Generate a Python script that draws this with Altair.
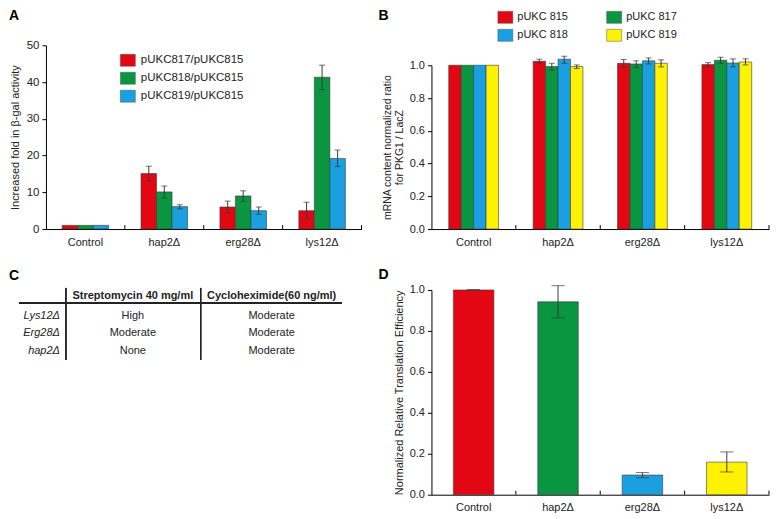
import altair as alt
import pandas as pd

# ---------------- data ----------------
groups = ["Control", "hap2Δ", "erg28Δ", "lys12Δ"]

# Panel A: increased fold in beta-gal activity
a_series = ["pUKC817/pUKC815", "pUKC818/pUKC815", "pUKC819/pUKC815"]
a_817 = [1.0, 15.1, 6.0, 5.0]
a_817_lo = [None, 13.1, 4.4, 2.8]
a_817_hi = [None, 17.1, 7.6, 7.3]
a_818 = [1.0, 10.1, 9.0, 41.3]
a_818_lo = [None, 8.4, 7.5, 37.9]
a_818_hi = [None, 11.7, 10.4, 44.6]
a_819 = [1.0, 6.1, 5.0, 19.2]
a_819_lo = [None, 5.5, 4.0, 17.0]
a_819_hi = [None, 6.6, 6.0, 21.5]

# Panel B: mRNA content ratio
b_series = ["pUKC 815", "pUKC 817", "pUKC 818", "pUKC 819"]
b_815 = [1.0, 1.024, 1.012, 1.004]
b_815_lo = [None, 1.012, 0.986, 0.990]
b_815_hi = [None, 1.037, 1.035, 1.016]
b_817 = [1.0, 0.992, 1.008, 1.031]
b_817_lo = [None, 0.971, 0.986, 1.012]
b_817_hi = [None, 1.012, 1.027, 1.049]
b_818 = [1.0, 1.037, 1.027, 1.014]
b_818_lo = [None, 1.012, 1.008, 0.990]
b_818_hi = [None, 1.055, 1.045, 1.039]
b_819 = [1.0, 0.992, 1.012, 1.020]
b_819_lo = [None, 0.980, 0.990, 1.002]
b_819_hi = [None, 1.002, 1.033, 1.039]

# Panel C: table
c_rows = ["Lys12Δ", "Erg28Δ", "hap2Δ"]
c_headers = ["Streptomycin 40 mg/ml", "Cycloheximide(60 ng/ml)"]
c_strep = ["High", "Moderate", "None"]
c_cyclo = ["Moderate", "Moderate", "Moderate"]

# Panel D: normalized relative translation efficiency
d_values = [1.0, 0.942, 0.096, 0.159]
d_lo = [0.998, 0.864, 0.083, 0.111]
d_hi = [1.002, 1.021, 0.108, 0.209]

# ---------------- style ----------------
RED, GREEN, BLUE, YELLOW = "#e30613", "#0a9540", "#1aa0e0", "#fff200"
INK = "#222222"
EDGE = "#3a3a3a"
RECT = "M-1,-0.8L1,-0.8L1,0.8L-1,0.8Z"
A_W, A_H = 316, 184
B_W = 338
D_H = 205
C_H = 70
GROUP_FRAC = 0.59


def long_table(gcol, scol, series, vals, los, his):
    rows = []
    for s, v, lo, hi in zip(series, vals, los, his):
        for g, vv, l, h in zip(groups, v, lo, hi):
            rows.append({gcol: g, scol: s, "value": vv, "lo": l, "hi": h})
    return pd.DataFrame(rows)


dfA = long_table("group", "series", a_series,
                 [a_817, a_818, a_819],
                 [a_817_lo, a_818_lo, a_819_lo],
                 [a_817_hi, a_818_hi, a_819_hi])
dfA_err = dfA.dropna(subset=["lo", "hi"])

dfB = long_table("group", "series", b_series,
                 [b_815, b_817, b_818, b_819],
                 [b_815_lo, b_817_lo, b_818_lo, b_819_lo],
                 [b_815_hi, b_817_hi, b_818_hi, b_819_hi])
dfB_err = dfB.dropna(subset=["lo", "hi"])

dfD = pd.DataFrame({"group": groups, "value": d_values, "lo": d_lo, "hi": d_hi})
df_groups = pd.DataFrame({"group": groups})


def xband():
    return alt.X("group:N", sort=groups,
                 scale=alt.Scale(domain=groups, paddingInner=0, paddingOuter=0),
                 axis=alt.Axis(title=None, labelAngle=0, ticks=False, labelPadding=7,
                               domainColor="black", domainWidth=1,
                               labelFontSize=11, labelColor=INK))


def xoffset(series, width):
    bw = width / len(groups)
    start = bw * (1 - GROUP_FRAC) / 2
    return alt.XOffset("series:N", sort=series,
                       scale=alt.Scale(domain=series, range=[start, bw - start]))


def band_ticks(h):
    return alt.Chart(df_groups).mark_rule(color="black", strokeWidth=1).encode(
        x=alt.X("group:N", sort=groups, bandPosition=1),
        y=alt.value(h), y2=alt.value(h - 4))


def panel_label(letter, x, y):
    return alt.Chart(pd.DataFrame({"t": [letter]})).mark_text(
        fontSize=14, fontWeight="bold", align="left", baseline="alphabetic", color="black"
    ).encode(text="t:N", x=alt.value(x), y=alt.value(y))


# ---------------- panel A ----------------
def yA(field):
    return alt.Y(field, scale=alt.Scale(domain=[0, 50]),
                 axis=alt.Axis(title="Increased fold in β-gal activity",
                               values=[0, 10, 20, 30, 40, 50], tickSize=4,
                               labelPadding=3, grid=False, domainColor="black",
                               tickColor="black", titlePadding=6, titleFontSize=11,
                               titleFontWeight="normal", titleColor=INK,
                               labelFontSize=11.5, labelColor=INK))


xoffA = xoffset(a_series, A_W)

barsA = alt.Chart(dfA).mark_bar(stroke=EDGE, strokeWidth=0.6).encode(
    x=xband(), xOffset=xoffA, y=yA("value:Q"),
    color=alt.Color("series:N", scale=alt.Scale(domain=a_series, range=[RED, GREEN, BLUE]),
                    legend=alt.Legend(title=None, orient="none", legendX=74, legendY=7,
                                      symbolType=RECT, symbolSize=225,
                                      symbolStrokeColor="#555", symbolStrokeWidth=0.5,
                                      symbolOpacity=1, labelFontSize=11.5, labelColor=INK,
                                      labelOffset=5, rowPadding=3, padding=0)))
errA = alt.Chart(dfA_err).mark_rule(color=EDGE, strokeWidth=1).encode(
    x=xband(), xOffset=xoffA, y=yA("lo:Q"), y2="hi:Q")
capA_lo = alt.Chart(dfA_err).mark_tick(size=6, thickness=1, color=EDGE).encode(
    x=xband(), xOffset=xoffA, y=yA("lo:Q"))
capA_hi = alt.Chart(dfA_err).mark_tick(size=6, thickness=1, color=EDGE).encode(
    x=xband(), xOffset=xoffA, y=yA("hi:Q"))

A = alt.layer(barsA, errA, capA_lo, capA_hi, band_ticks(A_H),
              panel_label("A", -37, -25)).properties(width=A_W, height=A_H)


# ---------------- panel B ----------------
def yB(field):
    return alt.Y(field, scale=alt.Scale(domain=[0, 1], range=[A_H, 20]),
                 axis=alt.Axis(title=["mRNA content normalized ratio", "for PKG1 / LacZ"],
                               values=[0, 0.2, 0.4, 0.6, 0.8, 1.0], format=".1f",
                               tickSize=4, labelPadding=3, grid=False,
                               domainColor="black", tickColor="black", titlePadding=5,
                               titleFontSize=10.5, titleFontWeight="normal",
                               titleColor=INK, titleLineHeight=12,
                               labelFontSize=11, labelColor=INK))


xoffB = xoffset(b_series, B_W)

b_legend_order = ["pUKC 815", "pUKC 818", "pUKC 817", "pUKC 819"]
barsB = alt.Chart(dfB).mark_bar(stroke=EDGE, strokeWidth=0.6).encode(
    x=xband(), xOffset=xoffB, y=yB("value:Q"),
    color=alt.Color("series:N",
                    scale=alt.Scale(domain=b_legend_order, range=[RED, BLUE, GREEN, YELLOW]),
                    legend=alt.Legend(title=None, orient="none", legendX=66, legendY=-36,
                                      columns=2, columnPadding=37,
                                      symbolType=RECT, symbolSize=225,
                                      symbolStrokeColor="#555", symbolStrokeWidth=0.5,
                                      symbolOpacity=1, labelFontSize=11, labelColor=INK,
                                      labelOffset=4, rowPadding=3, padding=0)))
errB = alt.Chart(dfB_err).mark_rule(color=EDGE, strokeWidth=1).encode(
    x=xband(), xOffset=xoffB, y=yB("lo:Q"), y2="hi:Q")
capB_lo = alt.Chart(dfB_err).mark_tick(size=6, thickness=1, color=EDGE).encode(
    x=xband(), xOffset=xoffB, y=yB("lo:Q"))
capB_hi = alt.Chart(dfB_err).mark_tick(size=6, thickness=1, color=EDGE).encode(
    x=xband(), xOffset=xoffB, y=yB("hi:Q"))

B = alt.layer(barsB, errB, capB_lo, capB_hi, band_ticks(A_H),
              panel_label("B", -53, -25)).properties(width=B_W, height=A_H)

# ---------------- panel C (table) ----------------
dfC_head = pd.DataFrame({"col": c_headers})
dfC_rows = pd.DataFrame({"row": c_rows})
cells = []
for r, s, c in zip(c_rows, c_strep, c_cyclo):
    cells.append({"row": r, "col": c_headers[0], "txt": s})
    cells.append({"row": r, "col": c_headers[1], "txt": c})
dfC_cells = pd.DataFrame(cells)

xC = alt.X("col:N", sort=c_headers,
           scale=alt.Scale(type="point", domain=c_headers, range=[87, 226], padding=0),
           axis=None)
yC = alt.Y("row:N", sort=c_rows,
           scale=alt.Scale(type="point", domain=c_rows, range=[26, 61], padding=0),
           axis=None)

head = alt.Chart(dfC_head).mark_text(fontSize=11, fontWeight="bold", color=INK,
                                     baseline="middle").encode(
    x=xC, y=alt.value(6), text="col:N")
rowlab = alt.Chart(dfC_rows).mark_text(fontSize=11, fontStyle="italic", color=INK,
                                       align="right", baseline="middle").encode(
    x=alt.value(14), y=yC, text="row:N")
celltxt = alt.Chart(dfC_cells).mark_text(fontSize=11, color=INK, baseline="middle").encode(
    x=xC, y=yC, text="txt:N")
hline = alt.Chart(df_groups).mark_rule(color=INK, strokeWidth=2).encode(
    x=alt.value(-27), x2=alt.value(296), y=alt.value(13))
vline1 = alt.Chart(df_groups).mark_rule(color=INK, strokeWidth=1).encode(
    x=alt.value(20), y=alt.value(-2), y2=alt.value(70))
vline2 = alt.Chart(df_groups).mark_rule(color=INK, strokeWidth=1).encode(
    x=alt.value(155), y=alt.value(-2), y2=alt.value(70))

C = alt.layer(hline, vline1, vline2, head, rowlab, celltxt,
              panel_label("C", -37, -10)).properties(width=A_W, height=C_H)


# ---------------- panel D ----------------
def yD(field):
    return alt.Y(field, scale=alt.Scale(domain=[0, 1]),
                 axis=alt.Axis(title="Normalized Relative Translation Efficiency",
                               values=[0, 0.2, 0.4, 0.6, 0.8, 1.0], format=".1f",
                               tickSize=4, labelPadding=3, grid=False,
                               domainColor="black", tickColor="black", titlePadding=5,
                               titleFontSize=11, titleFontWeight="normal",
                               titleColor=INK, labelFontSize=11, labelColor=INK))


barsD = alt.Chart(dfD).mark_bar(stroke=EDGE, strokeWidth=0.6,
                                width=alt.RelativeBandSize(0.48)).encode(
    x=xband(), y=yD("value:Q"),
    color=alt.Color("group:N", scale=alt.Scale(domain=groups, range=[RED, GREEN, BLUE, YELLOW]),
                    legend=None))
errD = alt.Chart(dfD).mark_rule(color=EDGE, strokeWidth=1).encode(
    x=xband(), y=yD("lo:Q"), y2="hi:Q")
capD_lo = alt.Chart(dfD).mark_tick(size=13, thickness=1, color=EDGE).encode(
    x=xband(), y=yD("lo:Q"))
capD_hi = alt.Chart(dfD).mark_tick(size=13, thickness=1, color=EDGE).encode(
    x=xband(), y=yD("hi:Q"))

D = alt.layer(barsD, errD, capD_lo, capD_hi, band_ticks(D_H),
              panel_label("D", -53, -11)).properties(width=B_W, height=D_H)

# ---------------- compose ----------------
chart = alt.concat(
    A, B, C, D, columns=2, spacing={"row": 61, "column": 70}, bounds="flush"
).resolve_scale(
    color="independent", xOffset="independent", x="independent", y="independent"
).resolve_legend(color="independent").properties(
    padding=0
).configure(font="Liberation Sans").configure_view(stroke="transparent")

chart.save("out.html", embed_options={"renderer": "svg", "actions": False})
